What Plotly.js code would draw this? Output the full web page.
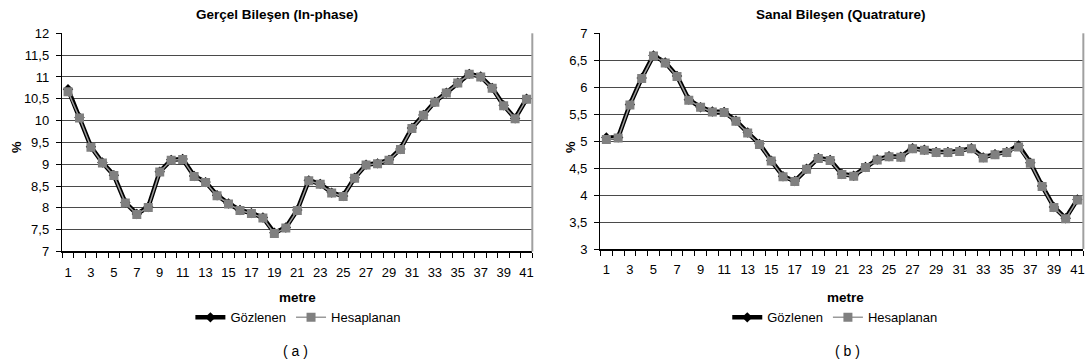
<!DOCTYPE html>
<html>
<head>
<meta charset="utf-8">
<script src="https://cdn.plot.ly/plotly-3.0.1.min.js"></script>
<style>html,body{margin:0;padding:0;background:#fff;}#chart{width:1089px;height:364px;}</style>
</head>
<body>
<div id="chart"></div>
<script>
// ---- data ----
const metre = [1,2,3,4,5,6,7,8,9,10,11,12,13,14,15,16,17,18,19,20,21,22,23,24,25,26,27,28,29,30,31,32,33,34,35,36,37,38,39,40,41];

const inPhaseObserved = [10.72,10.07,9.40,9.04,8.75,8.12,7.86,8.02,8.83,9.10,9.12,8.73,8.59,8.29,8.10,7.95,7.88,7.78,7.43,7.55,7.95,8.63,8.55,8.35,8.27,8.69,8.99,9.02,9.10,9.35,9.83,10.13,10.43,10.64,10.87,11.07,11.01,10.75,10.35,10.05,10.50];
const inPhaseComputed = [10.66,10.06,9.39,9.03,8.74,8.11,7.85,8.01,8.82,9.09,9.11,8.72,8.58,8.28,8.09,7.94,7.87,7.77,7.41,7.54,7.94,8.62,8.54,8.34,8.26,8.68,8.98,9.01,9.09,9.34,9.82,10.12,10.42,10.63,10.86,11.06,11.00,10.74,10.34,10.04,10.49];

const quadObserved = [5.07,5.07,5.68,6.17,6.59,6.46,6.21,5.77,5.63,5.55,5.54,5.38,5.16,4.95,4.64,4.35,4.26,4.49,4.69,4.65,4.39,4.36,4.52,4.66,4.72,4.71,4.87,4.84,4.80,4.80,4.82,4.87,4.70,4.76,4.80,4.92,4.60,4.17,3.78,3.57,3.92];
const quadComputed = [5.03,5.06,5.67,6.16,6.58,6.45,6.20,5.76,5.63,5.54,5.53,5.37,5.15,4.94,4.63,4.34,4.25,4.48,4.68,4.64,4.38,4.35,4.51,4.65,4.71,4.70,4.86,4.83,4.79,4.79,4.81,4.86,4.69,4.75,4.79,4.89,4.59,4.16,3.77,3.56,3.91];

const seriesNames = ['Gözlenen', 'Hesaplanan'];
const titles = ['Gerçel Bileşen (In-phase)', 'Sanal Bileşen (Quatrature)'];
const xTitle = 'metre';
const yTitle = '%';
const panelLabels = ['( a )', '( b )'];

// ---- styling ----
const FONT = 'Arial, "Liberation Sans", sans-serif';
const tickLabels = metre.filter((m, i) => i % 2 === 0);

function obsTrace(y, xa, ya, lg) {
  return {x: metre, y: y, xaxis: xa, yaxis: ya, legend: lg, name: seriesNames[0], type: 'scatter', mode: 'lines+markers',
    line: {color: '#000000', width: 4.5}, marker: {symbol: 'diamond', size: 8, color: '#000000'}};
}
function calcTrace(y, xa, ya, lg) {
  return {x: metre, y: y, xaxis: xa, yaxis: ya, legend: lg, name: seriesNames[1], type: 'scatter', mode: 'lines+markers',
    line: {color: '#9a9a9a', width: 1.5}, marker: {symbol: 'square', size: 9, color: '#808080'}};
}

const data = [
  obsTrace(inPhaseObserved, 'x', 'y', 'legend'),
  calcTrace(inPhaseComputed, 'x', 'y', 'legend'),
  obsTrace(quadObserved, 'x2', 'y2', 'legend2'),
  calcTrace(quadComputed, 'x2', 'y2', 'legend2')
];

function xAxis(domain, anchor) {
  return {domain: domain, anchor: anchor, range: [0.5, metre.length + 0.5], tickmode: 'array', tickvals: tickLabels,
    ticktext: tickLabels.map(String), ticks: '', showgrid: false, zeroline: false, showline: true,
    linecolor: '#000', linewidth: 1.5, ticklabelstandoff: 8, tickfont: {family: FONT, size: 13, color: '#000'},
    minor: {tick0: 0.5, dtick: 1, ticks: 'outside', ticklen: 5, tickcolor: '#000', tickwidth: 1, showgrid: false},
    fixedrange: true};
}
function yAxis(domain, anchor, range) {
  return {domain: domain, anchor: anchor, range: range, dtick: 0.5, tick0: 0, ticks: 'outside', ticklen: 5,
    tickcolor: '#000', tickwidth: 1, showgrid: true, gridcolor: '#4a4a4a', gridwidth: 1, zeroline: false,
    showline: true, linecolor: '#000', linewidth: 1.5, ticklabelstandoff: 4,
    tickfont: {family: FONT, size: 13, color: '#000'}, fixedrange: true};
}

const layout = {
  width: 1089, height: 364,
  margin: {l: 0, r: 0, t: 0, b: 0},
  paper_bgcolor: '#fff', plot_bgcolor: '#fff',
  separators: ', ',
  font: {family: FONT, color: '#000'},
  xaxis: xAxis([0.0572, 0.4888], 'y'),
  yaxis: yAxis([0.3091, 0.9085], 'x', [7, 12]),
  xaxis2: xAxis([0.5514, 0.9948], 'y2'),
  yaxis2: yAxis([0.3159, 0.9085], 'x2', [3, 7]),
  legend: {orientation: 'h', x: 0.274, xanchor: 'center', y: 0.128, yanchor: 'middle', font: {family: FONT, size: 13},
    itemwidth: 30, tracegroupgap: 0, bgcolor: 'rgba(0,0,0,0)'},
  legend2: {orientation: 'h', x: 0.767, xanchor: 'center', y: 0.128, yanchor: 'middle', font: {family: FONT, size: 13},
    itemwidth: 30, tracegroupgap: 0, bgcolor: 'rgba(0,0,0,0)'},
  shapes: [
    {type: 'line', xref: 'x domain', yref: 'y domain', x0: 1, x1: 1, y0: 0, y1: 1, line: {color: '#a0a0a0', width: 2}},
    {type: 'line', xref: 'x2 domain', yref: 'y2 domain', x0: 1, x1: 1, y0: 0, y1: 1, line: {color: '#a0a0a0', width: 2}}
  ],
  annotations: [
    {text: '<b>' + titles[0] + '</b>', xref: 'paper', yref: 'paper', x: 277 / 1089, y: 1 - 15 / 364, showarrow: false, font: {family: FONT, size: 13.5}, xanchor: 'center', yanchor: 'middle'},
    {text: '<b>' + titles[1] + '</b>', xref: 'paper', yref: 'paper', x: 841 / 1089, y: 1 - 15 / 364, showarrow: false, font: {family: FONT, size: 13.5}, xanchor: 'center', yanchor: 'middle'},
    {text: '<b>' + xTitle + '</b>', xref: 'paper', yref: 'paper', x: 297 / 1089, y: 1 - 297 / 364, showarrow: false, font: {family: FONT, size: 13.5}, xanchor: 'center', yanchor: 'middle'},
    {text: '<b>' + xTitle + '</b>', xref: 'paper', yref: 'paper', x: 845 / 1089, y: 1 - 297 / 364, showarrow: false, font: {family: FONT, size: 13.5}, xanchor: 'center', yanchor: 'middle'},
    {text: '<b>' + yTitle + '</b>', xref: 'paper', yref: 'paper', x: 16 / 1089, y: 1 - 147 / 364, showarrow: false, textangle: -90, font: {family: FONT, size: 13}, xanchor: 'center', yanchor: 'middle'},
    {text: '<b>' + yTitle + '</b>', xref: 'paper', yref: 'paper', x: 570 / 1089, y: 1 - 147 / 364, showarrow: false, textangle: -90, font: {family: FONT, size: 13}, xanchor: 'center', yanchor: 'middle'},
    {text: panelLabels[0], xref: 'paper', yref: 'paper', x: 295 / 1089, y: 1 - 351 / 364, showarrow: false, font: {family: FONT, size: 14}, xanchor: 'center', yanchor: 'middle'},
    {text: panelLabels[1], xref: 'paper', yref: 'paper', x: 848 / 1089, y: 1 - 351 / 364, showarrow: false, font: {family: FONT, size: 14}, xanchor: 'center', yanchor: 'middle'}
  ]
};

Plotly.newPlot('chart', data, layout, {staticPlot: true, displayModeBar: false});
</script>
</body>
</html>
